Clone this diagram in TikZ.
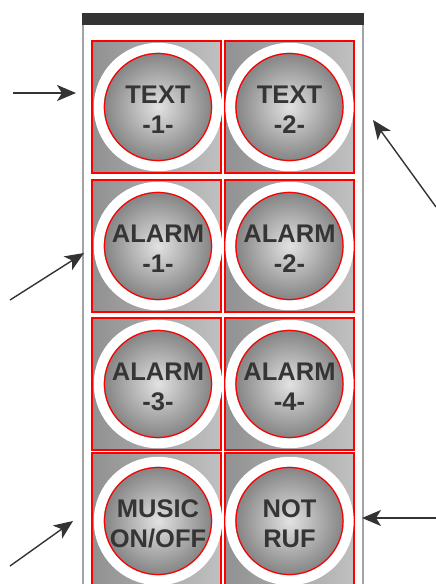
\documentclass[tikz,border=0pt]{standalone}
\usepackage{fontspec}
\setmainfont{Liberation Sans}
\usetikzlibrary{arrows.meta}
\definecolor{cellDark}{HTML}{919191}
\definecolor{cellLight}{HTML}{C0C0C0}
\definecolor{ballLight}{HTML}{E2E2E2}
\definecolor{ballDark}{HTML}{858585}
\definecolor{txt}{HTML}{353535}
\definecolor{frame}{HTML}{A4A4A4}
\definecolor{bar}{HTML}{333333}
\begin{document}
\begin{tikzpicture}[x=1pt,y=-1pt,
  cellbox/.style={rectangle, draw=red, line width=1.2pt, left color=cellDark, right color=cellLight,
    minimum width=129pt, minimum height=132pt, inner sep=0pt},
  ring/.style={draw=white, line width=9.8pt},
  btn/.style={circle, draw=red, line width=1.2pt, inner color=ballLight, outer color=ballDark,
    minimum size=107pt, inner sep=0pt},
  lbl/.style={align=center, text=txt, inner sep=0pt, yshift=-2.5pt,
    font=\bfseries\fontsize{25.5}{30}\selectfont},
  pointer/.style={draw=black!80, line width=1.4pt, -{Stealth[length=19pt,width=16pt,inset=5pt]}}]
\useasboundingbox (0,0) rectangle (436,584);
\clip (0,0) rectangle (436,584);
% panel frame
\draw[frame, line width=2pt] (82.5,13) -- (82.5,590);
\draw[frame, line width=2pt] (362.5,13) -- (362.5,590);
\fill[bar] (81.5,13) rectangle (363.5,25);
% cells
\node[cellbox] (c1) at (156.5,107) {};
\node[cellbox] (c2) at (289.5,107) {};
\node[cellbox] (c3) at (156.5,246) {};
\node[cellbox] (c4) at (289.5,246) {};
\node[cellbox] (c5) at (156.5,384) {};
\node[cellbox] (c6) at (289.5,384) {};
\node[cellbox] (c7) at (156.5,519) {};
\node[cellbox] (c8) at (289.5,519) {};
% button centres
\coordinate (p1) at (158,107);
\coordinate (p2) at (289.5,107);
\coordinate (p3) at (158,246);
\coordinate (p4) at (289.5,246);
\coordinate (p5) at (158,384);
\coordinate (p6) at (289.5,384);
\coordinate (p7) at (158,521);
\coordinate (p8) at (289.5,521);
\foreach \i in {1,...,8} \draw[ring] (p\i) circle (59.3pt);
% buttons
\node[btn, label={[lbl]center:{TEXT\\-1-}}] (b1) at (p1) {};
\node[btn, label={[lbl]center:{TEXT\\-2-}}] (b2) at (p2) {};
\node[btn, label={[lbl]center:{ALARM\\-1-}}] (b3) at (p3) {};
\node[btn, label={[lbl]center:{ALARM\\-2-}}] (b4) at (p4) {};
\node[btn, label={[lbl]center:{ALARM\\-3-}}] (b5) at (p5) {};
\node[btn, label={[lbl]center:{ALARM\\-4-}}] (b6) at (p6) {};
\node[btn, label={[lbl]center:{MUSIC\\ON/OFF}}] (b7) at (p7) {};
\node[btn, label={[lbl]center:{NOT\\RUF}}] (b8) at (p8) {};
% pointers
\coordinate (s1) at (13,93);   \coordinate (e1) at (76,93);
\coordinate (s2) at (436,207); \coordinate (e2) at (373,120);
\coordinate (s3) at (10,300);  \coordinate (e3) at (84,253);
\coordinate (s4) at (10,566);  \coordinate (e4) at (73,521);
\coordinate (s5) at (436,518); \coordinate (e5) at (362,518);
\foreach \i in {1,...,5} \draw[pointer] (s\i) -- (e\i);
\end{tikzpicture}
\end{document}
